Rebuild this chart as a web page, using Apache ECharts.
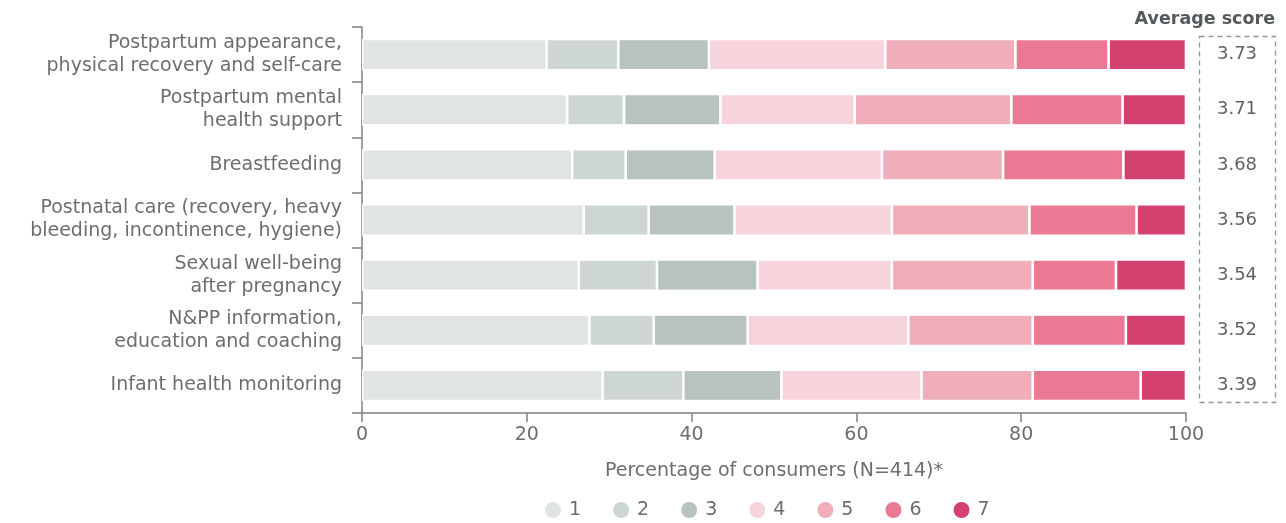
<!DOCTYPE html>
<html>
<head>
<meta charset="utf-8">
<script src="https://cdn.jsdelivr.net/npm/echarts@6/dist/echarts.min.js"></script>
<style>
  html, body { margin: 0; padding: 0; background: #ffffff; }
  #chart { width: 1286px; height: 523px; }
</style>
</head>
<body>
<div id="chart"></div>
<script>
// Topics, top to bottom
const categories = [
  'Postpartum appearance,\nphysical recovery and self-care',
  'Postpartum mental\nhealth support',
  'Breastfeeding',
  'Postnatal care (recovery, heavy\nbleeding, incontinence, hygiene)',
  'Sexual well-being\nafter pregnancy',
  'N&PP information,\neducation and coaching',
  'Infant health monitoring'
];

// Share of consumers (%) giving each score 1..7, per topic (same order as categories)
const score1 = [22.4, 24.9, 25.5, 26.9, 26.3, 27.6, 29.2];
const score2 = [8.7, 6.9, 6.5, 7.9, 9.5, 7.8, 9.8];
const score3 = [11.0, 11.7, 10.8, 10.4, 12.2, 11.4, 11.9];
const score4 = [21.4, 16.3, 20.3, 19.1, 16.3, 19.5, 17.0];
const score5 = [15.8, 19.0, 14.7, 16.7, 17.1, 15.1, 13.5];
const score6 = [11.3, 13.5, 14.6, 13.0, 10.1, 11.3, 13.1];
const score7 = [9.4, 7.7, 7.6, 6.0, 8.5, 7.3, 5.5];

// Average score per topic
const averageScores = ['3.73', '3.71', '3.68', '3.56', '3.54', '3.52', '3.39'];

// Legend names
const scoreNames = ['1', '2', '3', '4', '5', '6', '7'];

const scoreColors = ['#e0e5e4', '#cdd6d5', '#b8c2bf', '#f7d3dc', '#f0aebb', '#ea7995', '#d5416e'];
const scoreData = [score1, score2, score3, score4, score5, score6, score7];

const FONT = 'DejaVu Sans';
const TEXT = '#6b6e70';

const chart = echarts.init(document.getElementById('chart'), null, { renderer: 'canvas' });

const series = scoreData.map((vals, i) => ({
  name: scoreNames[i],
  type: 'bar',
  stack: 'total',
  barWidth: '57%',
  data: vals,
  itemStyle: { color: scoreColors[i], borderColor: '#ffffff', borderWidth: 1.3 },
  emphasis: { disabled: true }
}));

chart.setOption({
  animation: false,
  textStyle: { fontFamily: FONT },
  grid: { left: 362, right: 100, top: 27, bottom: 110, containLabel: false },
  legend: {
    data: scoreNames,
    bottom: -2,
    left: 538,
    icon: 'circle',
    itemWidth: 18,
    itemHeight: 18,
    itemGap: 30,
    textStyle: { fontFamily: FONT, fontSize: 19, color: TEXT, padding: [0, 0, 0, 2] }
  },
  xAxis: {
    type: 'value',
    min: 0,
    max: 100,
    interval: 20,
    name: 'Percentage of consumers (N=414)*',
    nameLocation: 'middle',
    nameGap: 49,
    nameTextStyle: { fontFamily: FONT, fontSize: 19, color: TEXT },
    axisLine: { show: true, lineStyle: { color: '#7d8286', width: 1.5 } },
    axisTick: { show: true, length: 9, lineStyle: { color: '#7d8286', width: 1.5 } },
    axisLabel: { fontFamily: FONT, fontSize: 19, color: TEXT, margin: 13 },
    splitLine: { show: false }
  },
  yAxis: [
    {
      type: 'category',
      data: categories,
      inverse: true,
      axisLine: { show: true, lineStyle: { color: '#7d8286', width: 1.5 } },
      axisTick: { show: true, length: 10, lineStyle: { color: '#7d8286', width: 1.5 } },
      axisLabel: { fontFamily: FONT, fontSize: 19, color: TEXT, margin: 20, lineHeight: 23, align: 'right' }
    },
    {
      type: 'category',
      data: averageScores,
      inverse: true,
      position: 'right',
      axisLine: { show: false },
      axisTick: { show: false },
      axisLabel: { fontFamily: FONT, fontSize: 18, color: '#5f6366', margin: 51, align: 'center' }
    }
  ],
  series: series,
  graphic: [
    {
      type: 'rect',
      shape: { x: 1199.5, y: 36.5, width: 76, height: 366 },
      style: { fill: 'none', stroke: '#8a9a96', lineWidth: 1.3, lineDash: [5, 4] },
      silent: true
    },
    {
      type: 'text',
      x: 1275,
      y: 19,
      style: {
        text: 'Average score',
        fill: '#55595c',
        font: 'bold 17.5px "DejaVu Sans"',
        align: 'right',
        verticalAlign: 'middle'
      }
    }
  ]
});
</script>
</body>
</html>
